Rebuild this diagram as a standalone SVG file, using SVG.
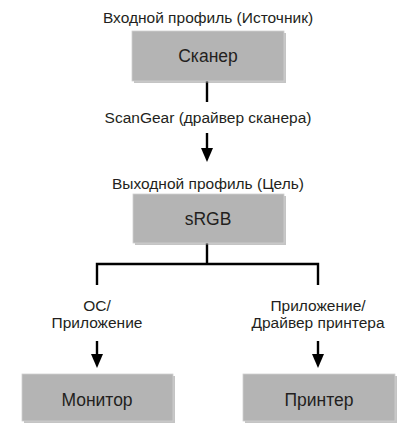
<svg xmlns="http://www.w3.org/2000/svg" width="416" height="446" viewBox="0 0 416 446">
<style>
.box{fill:#b4b4b4;stroke:#d0d0d0;stroke-width:0.8}
.sh{fill:#8a8a8a;opacity:0.5}
.t{font-family:"Liberation Sans",Arial,sans-serif;font-size:15.5px;fill:#231f20;text-anchor:middle}
.bt{font-family:"Liberation Sans",Arial,sans-serif;font-size:17.5px;fill:#231f20;text-anchor:middle}
.ln{stroke:#000;stroke-width:2.4;fill:none}
</style>
<rect width="416" height="446" fill="#fff"/>
<g id="connectors">
<line class="ln" x1="207" y1="81" x2="207" y2="102"/>
<line class="ln" x1="207" y1="133" x2="207" y2="149"/>
<path d="M201,148 L213,148 L207,162 Z" fill="#000"/>
<path class="ln" d="M207,243 V264 M97,285 V264 H318 V285"/>
<line class="ln" x1="97" y1="341" x2="97" y2="355"/>
<path d="M91,354 L103,354 L97,368 Z" fill="#000"/>
<line class="ln" x1="318" y1="341" x2="318" y2="355"/>
<path d="M312,354 L324,354 L318,368 Z" fill="#000"/>
</g>
<g id="label-input"><text class="t" x="208" y="23">Входной профиль (Источник)</text></g>
<g id="scanner">
<rect class="sh" x="134" y="33" width="152" height="50"/>
<rect class="box" x="132" y="31" width="152" height="50"/>
<text class="bt" x="208" y="62">Сканер</text>
</g>
<g id="label-scangear"><text class="t" x="208" y="123">ScanGear (драйвер сканера)</text></g>
<g id="label-output"><text class="t" x="208" y="189">Выходной профиль (Цель)</text></g>
<g id="srgb">
<rect class="sh" x="135" y="196" width="151" height="49"/>
<rect class="box" x="133" y="194" width="151" height="49"/>
<text class="bt" x="208" y="225">sRGB</text>
</g>
<g id="label-os"><text class="t" x="97" y="311">ОС/</text><text class="t" x="97" y="328">Приложение</text></g>
<g id="label-app"><text class="t" x="318" y="311">Приложение/</text><text class="t" x="318" y="328">Драйвер принтера</text></g>
<g id="monitor">
<rect class="sh" x="24" y="376" width="151" height="47"/>
<rect class="box" x="22" y="374" width="151" height="47"/>
<text class="bt" x="97" y="406">Монитор</text>
</g>
<g id="printer">
<rect class="sh" x="245" y="376" width="152" height="47"/>
<rect class="box" x="243" y="374" width="152" height="47"/>
<text class="bt" x="319" y="406">Принтер</text>
</g>
</svg>
